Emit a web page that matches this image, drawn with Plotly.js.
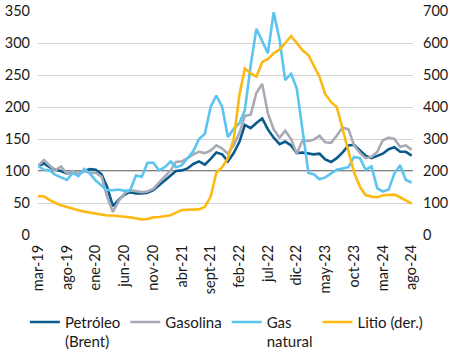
<!DOCTYPE html>
<html>
<head>
<meta charset="utf-8">
<script src="https://cdn.plot.ly/plotly-3.0.1.min.js"></script>
<style>
html,body{margin:0;padding:0;background:#fff;}
#chart{width:451px;height:354px;}
</style>
</head>
<body>
<div id="chart"></div>
<script>
// Monthly dates from mar-2019 to ago-2024
var startYear = 2019, startMonth = 3, nMonths = 66;
var months = [];
for (var k = 0; k < nMonths; k++) {
  var m = startMonth - 1 + k;
  var yy = startYear + Math.floor(m / 12);
  var mm = (m % 12) + 1;
  months.push(yy + '-' + (mm < 10 ? '0' + mm : mm) + '-01');
}

var brent = [107,112,106,102,100,96,99,96,100,103,
             102,95,75,45,55,63,67,65,65,66,
             70,78,86,93,100,101,104,111,115,110,
             119,129,126,115,128,146,172,167,175,182,
             165,152,142,146,140,128,129,128,126,127,
             118,114,120,129,140,141,132,124,120,124,
             127,134,137,130,130,124];

var gasolina = [108,117,109,101,107,96,100,96,100,97,
                97,91,60,36,53,65,70,68,67,68,
                72,82,92,101,114,115,120,126,130,128,
                132,140,135,127,140,160,186,188,222,236,
                190,165,152,163,150,127,148,147,149,155,
                145,144,155,168,165,140,128,120,122,130,
                148,152,150,138,140,133];

var gasNatural = [108,102,101,94,90,86,97,92,103,96,
                  85,77,70,70,71,69,70,93,91,113,
                  113,101,106,115,106,109,120,131,150,158,
                  200,218,200,153,166,175,195,265,322,303,
                  284,348,305,242,252,229,160,97,95,87,
                  90,96,102,104,106,122,120,102,107,73,
                  68,71,96,109,86,82];

var litio = [121,121,110,100,93,87,82,77,73,70,
             67,64,61,61,60,57,55,53,49,50,
             55,56,58,62,70,78,79,80,80,88,
             120,195,212,240,300,440,520,505,495,540,
             550,568,580,600,622,600,577,562,530,494,
             440,415,400,330,255,195,150,125,120,118,
             124,126,126,118,108,98];

var tickDates = ['2019-03-01','2019-08-01','2020-01-01','2020-06-01','2020-11-01',
                 '2021-04-01','2021-09-01','2022-02-01','2022-07-01','2022-12-01',
                 '2023-05-01','2023-10-01','2024-03-01','2024-08-01'];
var tickLabels = ['mar-19','ago-19','ene-20','jun-20','nov-20','abr-21','sept-21',
                  'feb-22','jul-22','dic-22','may-23','oct-23','mar-24','ago-24'];

var leftTicks = [0,50,100,150,200,250,300,350];
var rightTicks = [0,100,200,300,400,500,600,700];

var FONT = 'Lato, "Noto Sans", sans-serif';
var W = 2.6;

var traces = [
  {x: months, y: brent, name: 'Petróleo<br>(Brent)', type: 'scatter', mode: 'lines',
   line: {color: '#0B5A8E', width: W}},
  {x: months, y: gasolina, name: 'Gasolina', type: 'scatter', mode: 'lines',
   line: {color: '#A8ABB6', width: W}},
  {x: months, y: gasNatural, name: 'Gas<br>natural', type: 'scatter', mode: 'lines',
   line: {color: '#5BC4EF', width: W}},
  {x: months, y: litio, name: 'Litio (der.)', type: 'scatter', mode: 'lines', yaxis: 'y2',
   line: {color: '#FDB913', width: W}}
];

var layout = {
  width: 451, height: 354,
  margin: {l: 38, r: 38, t: 11, b: 119, autoexpand: false},
  paper_bgcolor: '#fff', plot_bgcolor: '#fff',
  font: {family: FONT, size: 14.5, color: '#1a1a1a'},
  showlegend: true,
  legend: {orientation: 'h', x: -0.035, xanchor: 'left', y: -0.316, yanchor: 'top',
           valign: 'top', font: {family: FONT, size: 15, color: '#1a1a1a'},
           itemwidth: 30, tracegroupgap: 0, traceorder: 'normal'},
  xaxis: {type: 'date', range: ['2019-03-01', '2024-08-08'],
          tickmode: 'array', tickvals: tickDates, ticktext: tickLabels,
          tickangle: -90, showgrid: false, zeroline: false, showline: false,
          automargin: false,
          ticks: '', ticklabelstandoff: 6, tickfont: {family: FONT, size: 14.5}},
  yaxis: {range: [0, 350], tickmode: 'array', tickvals: leftTicks,
          showgrid: true, gridcolor: '#D3D3D3', gridwidth: 1, automargin: false,
          zeroline: false, showline: false, ticks: '', ticklabelstandoff: 7,
          tickfont: {family: FONT, size: 14.5}},
  yaxis2: {range: [0, 700], overlaying: 'y', side: 'right', tickmode: 'array',
           tickvals: rightTicks, showgrid: false, zeroline: false, showline: false,
           automargin: false,
           ticks: '', ticklabelstandoff: 9, tickfont: {family: FONT, size: 14.5}},
  shapes: [{type: 'line', xref: 'paper', x0: 0, x1: 1, yref: 'y', y0: 100, y1: 100,
            line: {color: '#000', width: 1}, layer: 'below'}]
};

Plotly.newPlot('chart', traces, layout, {displayModeBar: false, staticPlot: true});
</script>
</body>
</html>
